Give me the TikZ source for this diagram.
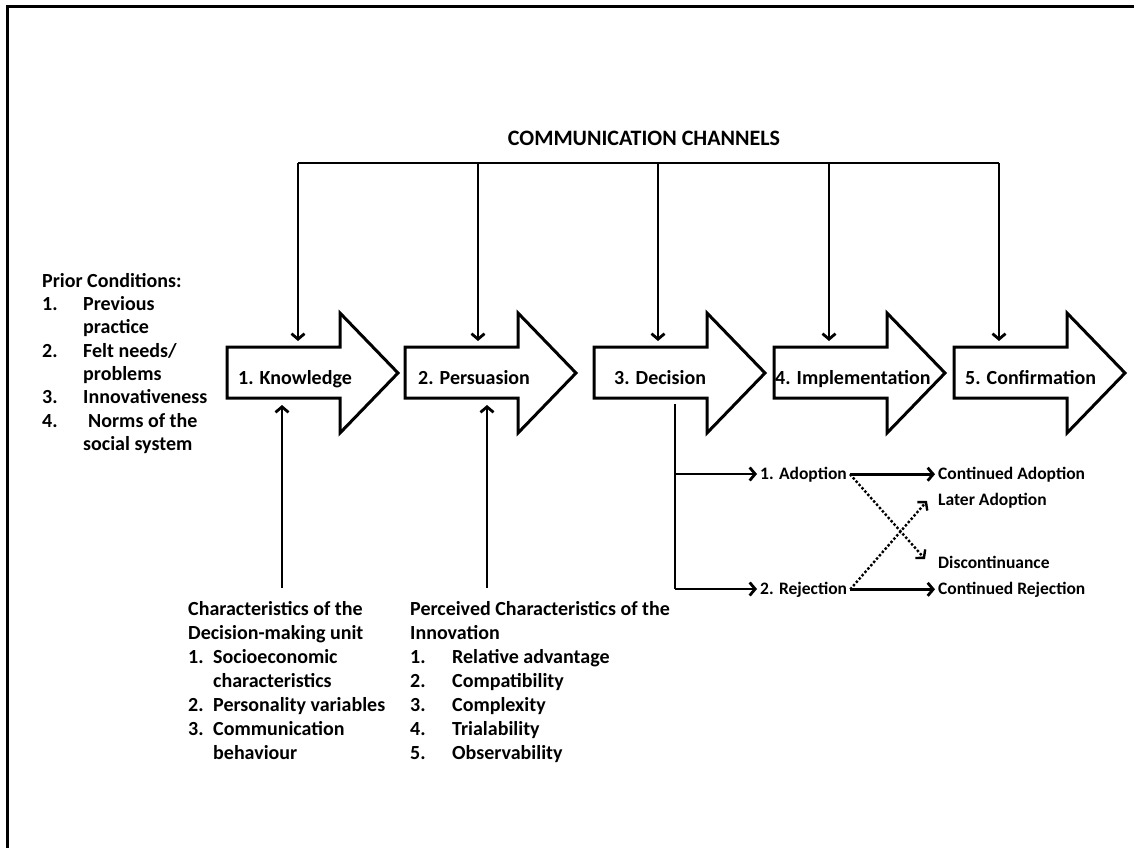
\documentclass[tikz,border=0pt]{standalone}
\usepackage{fontspec}
\setmainfont{Carlito}
\usetikzlibrary{arrows.meta}

% block arrow for one stage of the process; #1 = left edge
\newcommand\stageshape[1]{%
  \draw[stagebox] (#1,347) -- (#1+113,347) -- (#1+113,313) -- (#1+171,373)
    -- (#1+113,433) -- (#1+113,398) -- (#1,398) -- cycle;}

\begin{document}
\begin{tikzpicture}[x=1pt,y=-1pt,
  frameline/.style={line width=3pt},
  stagebox/.style={draw, line width=3pt, fill=white, line join=miter},
  wire/.style={line width=2.8pt},
  arr/.style={wire, -{Straight Barb[length=5.5pt,width=13pt]}},
  dotarr/.style={line width=2.4pt, dotted, -{Straight Barb[length=5.5pt,width=13pt]}},
  stagelbl/.style={font=\bfseries\fontsize{20}{24}\selectfont, inner sep=0pt, anchor=base west},
  titlelbl/.style={font=\bfseries\fontsize{22}{26}\selectfont, inner sep=0pt, anchor=base},
  branch/.style={font=\bfseries\fontsize{17.5}{21}\selectfont, inner xsep=3pt, inner ysep=0pt, anchor=base west},
  listblock/.style={font=\bfseries\fontsize{20}{24.1}\selectfont, inner sep=0pt, anchor=north west, align=left},
  priorblock/.style={font=\bfseries\fontsize{20}{23.3}\selectfont, inner sep=0pt, anchor=north west, align=left},
]
\useasboundingbox (0,0) rectangle (1134,848);

% outer frame
\draw[frameline] (7,848) -- (7,7) -- (1134,7);

% title and the channel bus
\node[titlelbl] (cc) at (644,145) {COMMUNICATION CHANNELS};
\coordinate (ch1) at (298,163);
\coordinate (ch2) at (478,163);
\coordinate (ch3) at (658,163);
\coordinate (ch4) at (829,163);
\coordinate (ch5) at (999,163);
\draw[wire] (ch1) -- (ch5);

% the five stages
\stageshape{227}
\stageshape{405}
\stageshape{594}
\stageshape{774}
\stageshape{954}
\node[stagelbl] (knowledge) at (238,384) {1. Knowledge};
\node[stagelbl] (persuasion) at (418,384) {2. Persuasion};
\node[stagelbl] (decision) at (614,384) {3. Decision};
\node[stagelbl] (implementation) at (775,384) {4. Implementation};
\node[stagelbl] (confirmation) at (965,384) {5. Confirmation};

% channel drops into each stage
\coordinate (in1) at (298,341);
\coordinate (in2) at (478,341);
\coordinate (in3) at (658,341);
\coordinate (in4) at (829,341);
\coordinate (in5) at (999,341);
\foreach \i in {1,...,5} \draw[arr] (ch\i) -- (in\i);

% prior conditions
\node[priorblock] (prior) at (42,270.7) {\strut Prior Conditions:\\
  \makebox[41pt][l]{1.}Previous\\
  \hspace*{41pt}practice\\
  \makebox[41pt][l]{2.}Felt needs/\\
  \hspace*{41pt}problems\\
  \makebox[41pt][l]{3.}Innovativeness\\
  \makebox[41pt][l]{4.}\hspace*{5pt}Norms of the\\
  \hspace*{41pt}social system};

% characteristics feeding knowledge and persuasion
\node[listblock] (dmu) at (188,598.1) {\strut Characteristics of the\\
  Decision-making unit\\
  \makebox[25pt][l]{1.}Socioeconomic\\
  \hspace*{25pt}characteristics\\
  \makebox[25pt][l]{2.}Personality variables\\
  \makebox[25pt][l]{3.}Communication\\
  \hspace*{25pt}behaviour};
\node[listblock] (pci) at (410,598.1) {\strut Perceived Characteristics of the\\
  Innovation\\
  \makebox[42pt][l]{1.}Relative advantage\\
  \makebox[42pt][l]{2.}Compatibility\\
  \makebox[42pt][l]{3.}Complexity\\
  \makebox[42pt][l]{4.}Trialability\\
  \makebox[42pt][l]{5.}Observability};
\coordinate (lo1) at (282,588);
\coordinate (up1) at (282,405);
\coordinate (lo2) at (487,588);
\coordinate (up2) at (487,405);
\draw[arr] (lo1) -- (up1);
\draw[arr] (lo2) -- (up2);

% outcomes of the decision
\node[branch] (adopt) at (757,479) {1. Adoption};
\node[branch] (reject) at (757,594) {2. Rejection};
\node[branch] (contadopt) at (935,479) {Continued Adoption};
\node[branch] (later) at (935,505) {Later Adoption};
\node[branch] (discont) at (935,568) {Discontinuance};
\node[branch] (contreject) at (935,594) {Continued Rejection};

\coordinate (dtop) at (675,404);
\coordinate (dmid) at (675,474);
\coordinate (dbot) at (675,589);
\draw[wire] (dtop) -- (dbot);
\draw[arr] (dmid) -- (adopt.west |- dmid);
\draw[arr] (dbot) -- (reject.west |- dbot);
\draw[arr] (adopt.east) -- (contadopt.west);
\draw[arr] (reject.east) -- (contreject.west);

% switching between adoption and rejection
\coordinate (todisc) at (925,559);
\coordinate (tolater) at (927,501);
\draw[dotarr] (adopt.east) -- (todisc);
\draw[dotarr] (reject.east) -- (tolater);
\end{tikzpicture}
\end{document}
